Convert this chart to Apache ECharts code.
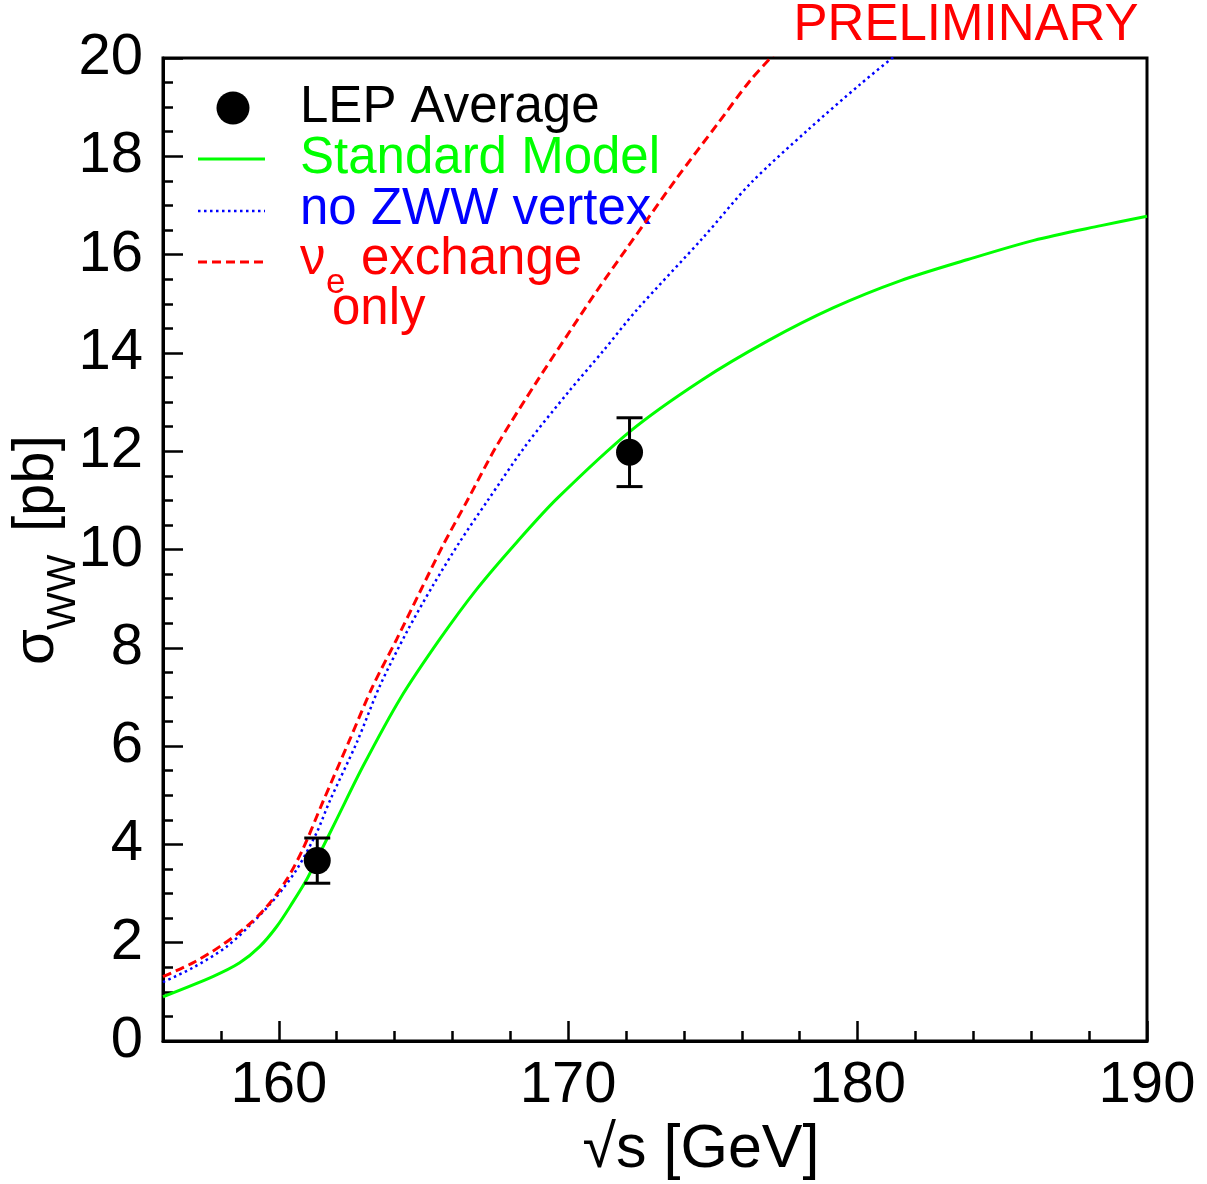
<!DOCTYPE html>
<html>
<head>
<meta charset="utf-8">
<title>WW cross section</title>
<script src="https://cdn.jsdelivr.net/npm/echarts@6/dist/echarts.min.js"></script>
<style>
  html, body { margin: 0; padding: 0; background: #fff; }
  #chart_ww { width: 1207px; height: 1184px; }
</style>
</head>
<body>
<div id="chart_ww"></div>
<script>
// LEP average measurements
const lepEnergy = [161.33, 172.12];
const lepSigma = [3.67, 11.98];
const lepError = [0.46, 0.70];

// Standard Model
const smEnergy = [156.0, 157.72, 158.65, 159.34, 159.93, 160.48, 160.97, 161.31, 162.0, 162.91, 164.19, 165.57, 166.85, 168.24, 169.62, 172.15, 174.57, 176.88, 179.17, 181.49, 183.81, 186.09, 188.41, 190.0];
const smSigma = [0.90, 1.31, 1.59, 1.92, 2.33, 2.82, 3.29, 3.69, 4.51, 5.59, 6.96, 8.18, 9.20, 10.16, 11.04, 12.41, 13.43, 14.24, 14.92, 15.47, 15.90, 16.29, 16.59, 16.78];

// no ZWW vertex
const noZwwEnergy = [156.0, 157.03, 158.20, 159.10, 159.93, 160.62, 161.31, 161.76, 162.70, 163.49, 164.43, 165.33, 166.26, 167.20, 168.54, 170.03, 171.21, 172.35, 174.67, 176.30, 178.27, 180.10, 181.24];
const noZwwSigma = [1.20, 1.49, 1.92, 2.41, 2.94, 3.49, 4.24, 4.88, 6.08, 7.22, 8.33, 9.27, 10.16, 10.98, 12.12, 13.22, 14.04, 14.86, 16.35, 17.45, 18.53, 19.47, 20.02];

// nu_e exchange only
const nueEnergy = [156.0, 157.03, 157.96, 158.89, 159.58, 160.28, 160.83, 161.52, 162.46, 163.25, 164.08, 164.88, 165.67, 166.50, 167.54, 168.92, 170.07, 171.0, 172.04, 173.77, 175.15, 176.30, 177.09];
const nueSigma = [1.31, 1.59, 1.92, 2.33, 2.73, 3.29, 3.90, 4.86, 6.14, 7.22, 8.18, 9.14, 10.08, 10.98, 12.12, 13.42, 14.45, 15.27, 16.14, 17.57, 18.65, 19.55, 20.06];

const xMajorTicks = [160, 170, 180, 190];

const FONT = '"Liberation Sans", Arial, sans-serif';

function pairs(xs, ys) {
  return xs.map((x, i) => [x, ys[i]]);
}

let myChart = echarts.init(document.getElementById('chart_ww'));

let option = {
  animation: false,
  backgroundColor: '#fff',
  grid: {
    left: 163,
    right: 60,
    top: 58,
    bottom: 143,
    show: true,
    borderColor: '#000',
    borderWidth: 3,
    backgroundColor: 'transparent'
  },
  xAxis: [{
    type: 'value',
    min: 156,
    max: 190,
    interval: 2,
    axisLine: { show: true, lineStyle: { color: '#000', width: 3 } },
    axisTick: { show: true, inside: true, length: 10, lineStyle: { color: '#000', width: 2.5 } },
    axisLabel: {
      color: '#000',
      fontSize: 58,
      fontFamily: FONT,
      margin: 16,
      formatter: function (v) {
        return v % 10 === 0 ? String(v) : '';
      }
    },
    splitLine: { show: false }
  }, {
    // longer ticks at the labelled values
    type: 'value',
    position: 'bottom',
    min: 156,
    max: 190,
    axisLine: { show: false },
    axisTick: {
      show: true,
      inside: true,
      length: 20,
      customValues: xMajorTicks,
      lineStyle: { color: '#000', width: 2.5 }
    },
    axisLabel: { show: false },
    splitLine: { show: false }
  }],
  yAxis: {
    type: 'value',
    min: 0,
    max: 20,
    interval: 2,
    axisLine: { show: true, lineStyle: { color: '#000', width: 3 } },
    axisTick: { show: true, inside: true, length: 20, lineStyle: { color: '#000', width: 2.5 } },
    minorTick: { show: true, splitNumber: 4, length: 10, lineStyle: { color: '#000', width: 2.5 } },
    axisLabel: { color: '#000', fontSize: 58, fontFamily: FONT, margin: 20 },
    splitLine: { show: false },
    minorSplitLine: { show: false }
  },
  series: [{
    name: 'Standard Model',
    type: 'line',
    data: pairs(smEnergy, smSigma),
    symbol: 'none',
    smooth: 0.3,
    lineStyle: { color: '#00ff00', width: 3 }
  }, {
    name: 'no ZWW vertex',
    type: 'line',
    data: pairs(noZwwEnergy, noZwwSigma),
    symbol: 'none',
    smooth: 0.3,
    lineStyle: { color: '#0000ff', width: 2.5, type: [2.5, 3.5] }
  }, {
    name: 'nu_e exchange only',
    type: 'line',
    data: pairs(nueEnergy, nueSigma),
    symbol: 'none',
    smooth: 0.3,
    lineStyle: { color: '#ff0000', width: 3, type: [9, 5] }
  }, {
    name: 'LEP errors',
    type: 'custom',
    data: lepEnergy.map((e, i) => [e, lepSigma[i] - lepError[i], lepSigma[i] + lepError[i]]),
    encode: { x: 0, y: [1, 2] },
    z: 5,
    renderItem: function (params, api) {
      let top = api.coord([api.value(0), api.value(2)]);
      let bot = api.coord([api.value(0), api.value(1)]);
      let hw = 13;
      let style = { stroke: '#000', lineWidth: 3 };
      return {
        type: 'group',
        children: [
          { type: 'line', shape: { x1: top[0], y1: top[1], x2: bot[0], y2: bot[1] }, style: style },
          { type: 'line', shape: { x1: top[0] - hw, y1: top[1], x2: top[0] + hw, y2: top[1] }, style: style },
          { type: 'line', shape: { x1: bot[0] - hw, y1: bot[1], x2: bot[0] + hw, y2: bot[1] }, style: style }
        ]
      };
    }
  }, {
    name: 'LEP Average',
    type: 'scatter',
    data: pairs(lepEnergy, lepSigma),
    symbol: 'circle',
    symbolSize: 27,
    z: 6,
    itemStyle: { color: '#000', opacity: 1 }
  }],
  graphic: [
    // PRELIMINARY
    { type: 'text', x: 966, y: 26, style: { text: 'PRELIMINARY', fill: '#ff0000', fontSize: 51, fontFamily: FONT, align: 'center', verticalAlign: 'middle' } },
    // x axis title
    { type: 'text', x: 701, y: 1150, style: { text: '\u221As [GeV]', fill: '#000', fontSize: 61, fontFamily: FONT, align: 'center', verticalAlign: 'middle' } },
    // y axis title (rotated, with subscript)
    {
      type: 'group',
      x: 57,
      y: 665,
      rotation: Math.PI / 2,
      children: [
        { type: 'text', x: 0, y: -20, style: { text: '\u03C3', fill: '#000', fontSize: 58, fontFamily: FONT, align: 'left', verticalAlign: 'middle' } },
        { type: 'text', x: 35, y: 7, style: { text: 'WW', fill: '#000', fontSize: 40, fontFamily: FONT, align: 'left', verticalAlign: 'middle' } },
        { type: 'text', x: 133, y: -20, style: { text: '[pb]', fill: '#000', fontSize: 58, fontFamily: FONT, align: 'left', verticalAlign: 'middle' } }
      ]
    },
    // legend
    { type: 'circle', shape: { cx: 233, cy: 108, r: 16.5 }, style: { fill: '#000' } },
    { type: 'text', x: 300, y: 108, style: { text: 'LEP Average', fill: '#000', fontSize: 51, fontFamily: FONT, verticalAlign: 'middle' } },
    { type: 'line', shape: { x1: 198, y1: 159, x2: 265, y2: 159 }, style: { stroke: '#00ff00', lineWidth: 3 } },
    { type: 'text', x: 300, y: 159, style: { text: 'Standard Model', fill: '#00ff00', fontSize: 51, fontFamily: FONT, verticalAlign: 'middle' } },
    { type: 'line', shape: { x1: 198, y1: 211, x2: 265, y2: 211 }, style: { stroke: '#0000ff', lineWidth: 2.5, lineDash: [2.5, 3.5] } },
    { type: 'text', x: 300, y: 210, style: { text: 'no ZWW vertex', fill: '#0000ff', fontSize: 51, fontFamily: FONT, verticalAlign: 'middle' } },
    { type: 'line', shape: { x1: 198, y1: 262, x2: 265, y2: 262 }, style: { stroke: '#ff0000', lineWidth: 3, lineDash: [9, 5] } },
    { type: 'text', x: 300, y: 260, style: { text: '\u03BD', fill: '#ff0000', fontSize: 51, fontFamily: FONT, verticalAlign: 'middle' } },
    { type: 'text', x: 326, y: 283, style: { text: 'e', fill: '#ff0000', fontSize: 35, fontFamily: FONT, verticalAlign: 'middle' } },
    { type: 'text', x: 361, y: 260, style: { text: 'exchange', fill: '#ff0000', fontSize: 51, fontFamily: FONT, verticalAlign: 'middle' } },
    { type: 'text', x: 332, y: 310, style: { text: 'only', fill: '#ff0000', fontSize: 51, fontFamily: FONT, verticalAlign: 'middle' } }
  ]
};

myChart.setOption(option, true);

window.addEventListener('resize', () => {
  myChart.resize();
});
</script>
</body>
</html>
